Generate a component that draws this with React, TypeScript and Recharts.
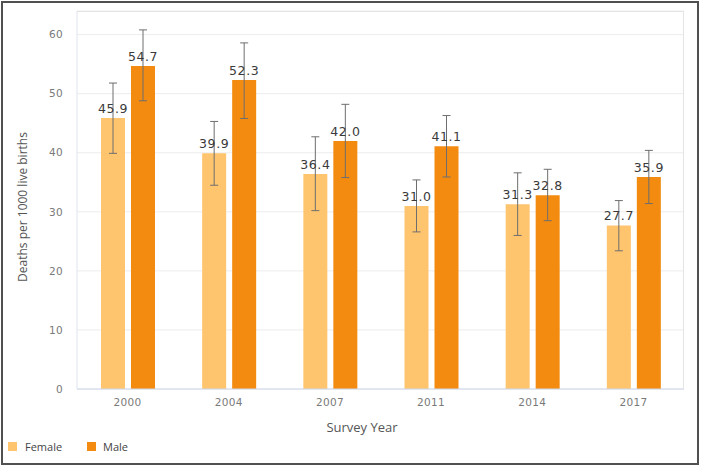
import React from 'react';
import { BarChart, Bar, XAxis, YAxis, CartesianGrid, ErrorBar, LabelList } from 'recharts';

const years = ['2000', '2004', '2007', '2011', '2014', '2017'];
const female = [45.9, 39.9, 36.4, 31.0, 31.3, 27.7];
const male = [54.7, 52.3, 42.0, 41.1, 32.8, 35.9];
// confidence intervals (lower / upper)
const femaleLow = [39.9, 34.5, 30.2, 26.6, 26.0, 23.4];
const femaleHigh = [51.8, 45.3, 42.7, 35.4, 36.6, 31.9];
const maleLow = [48.8, 45.8, 35.8, 35.9, 28.5, 31.4];
const maleHigh = [60.8, 58.6, 48.2, 46.3, 37.2, 40.4];
const yTicks = [0, 10, 20, 30, 40, 50, 60];

const FEMALE = '#fec56e';
const MALE = '#f28b10';

const data = years.map((year, i) => ({
  year,
  female: female[i],
  male: male[i],
  femaleErr: [female[i] - femaleLow[i], femaleHigh[i] - female[i]],
  maleErr: [male[i] - maleLow[i], maleHigh[i] - male[i]],
}));

const tickStyle = { fontFamily: 'DejaVu Sans', fontSize: 10.5, fill: '#7a7a7a', letterSpacing: 0.3 };
const valueStyle = { fontFamily: 'DejaVu Sans', fontSize: 12.5, fill: '#3a3a3a', letterSpacing: 0.6 };

const App = () => {
  return (
    <div style={{ position: 'absolute', left: 0, top: 0, width: 702, height: 467, background: '#fff' }}>
      <div
        style={{
          position: 'absolute',
          left: 1,
          top: 1,
          width: 698,
          height: 464,
          border: '2px solid #505050',
          boxSizing: 'border-box',
        }}
      />
      <div style={{ position: 'absolute', left: 0, top: 0 }}>
        <BarChart
          width={702}
          height={467}
          data={data}
          margin={{ top: 11, right: 18, left: 0, bottom: 0 }}
          barSize={24}
          barGap={6}
        >
          <CartesianGrid vertical={false} stroke="#ececec" />
          <XAxis
            dataKey="year"
            height={78}
            axisLine={{ stroke: '#ccd6eb' }}
            tickLine={false}
            tick={tickStyle}
            tickMargin={4}
          />
          <YAxis
            width={77}
            domain={[0, 64]}
            ticks={yTicks}
            axisLine={{ stroke: '#dde3ee' }}
            tickLine={false}
            tick={tickStyle}
            tickMargin={8}
          />
          <Bar dataKey="female" fill={FEMALE} isAnimationActive={false}>
            <ErrorBar dataKey="femaleErr" width={4} stroke="#6e6e6e" strokeWidth={1} />
            <LabelList dataKey="female" position="top" offset={5} style={valueStyle} formatter={(v: number) => v.toFixed(1)} />
          </Bar>
          <Bar dataKey="male" fill={MALE} isAnimationActive={false}>
            <ErrorBar dataKey="maleErr" width={4} stroke="#6e6e6e" strokeWidth={1} />
            <LabelList dataKey="male" position="top" offset={5} style={valueStyle} formatter={(v: number) => v.toFixed(1)} />
          </Bar>
        </BarChart>
      </div>
      {/* plot frame, top and right edges */}
      <div
        style={{
          position: 'absolute',
          left: 77,
          top: 11,
          width: 607,
          height: 378,
          borderTop: '1px solid #e4e4e4',
          borderRight: '1px solid #e4e4e4',
          boxSizing: 'border-box',
          pointerEvents: 'none',
        }}
      />
      <div
        style={{
          position: 'absolute',
          left: 22,
          top: 207,
          transform: 'translate(-50%, -50%) rotate(-90deg)',
          whiteSpace: 'nowrap',
          fontFamily: 'Open Sans',
          fontSize: 12,
          color: '#555',
        }}
      >
        Deaths per 1000 live births
      </div>
      <div
        style={{
          position: 'absolute',
          left: 362,
          top: 427,
          transform: 'translate(-50%, -50%)',
          whiteSpace: 'nowrap',
          fontFamily: 'Open Sans',
          fontSize: 13,
          color: '#555',
        }}
      >
        Survey Year
      </div>
      <div
        style={{
          position: 'absolute',
          left: 8,
          top: 439,
          display: 'flex',
          alignItems: 'center',
          fontFamily: 'Open Sans',
          fontSize: 11,
          color: '#444',
        }}
      >
        <span style={{ width: 9, height: 9, background: FEMALE, display: 'inline-block' }} />
        <span style={{ marginLeft: 8, width: 62 }}>Female</span>
        <span style={{ width: 9, height: 9, background: MALE, display: 'inline-block' }} />
        <span style={{ marginLeft: 7 }}>Male</span>
      </div>
    </div>
  );
};

export default App;
